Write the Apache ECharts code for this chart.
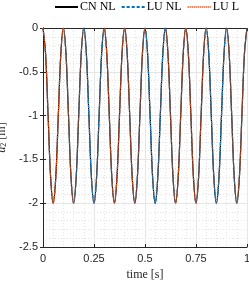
<!DOCTYPE html>
<html><head><meta charset="utf-8">
<script src="https://cdn.jsdelivr.net/npm/echarts@6/dist/echarts.min.js"></script>
<style>html,body{margin:0;padding:0;background:#fff}#c{width:249px;height:283px}</style>
</head><body><div id="c"></div>
<script>
const time = [0,0.0125,0.025,0.0375,0.05,0.0625,0.075,0.0875,
0.1,0.1125,0.125,0.1375,0.15,0.1625,0.175,0.1875,
0.2,0.2125,0.225,0.2375,0.25,0.2625,0.275,0.2875,
0.3,0.3125,0.325,0.3375,0.35,0.3625,0.375,0.3875,
0.4,0.4125,0.425,0.4375,0.45,0.4625,0.475,0.4875,
0.5,0.5125,0.525,0.5375,0.55,0.5625,0.575,0.5875,
0.6,0.6125,0.625,0.6375,0.65,0.6625,0.675,0.6875,
0.7,0.7125,0.725,0.7375,0.75,0.7625,0.775,0.7875,
0.8,0.8125,0.825,0.8375,0.85,0.8625,0.875,0.8875,
0.9,0.9125,0.925,0.9375,0.95,0.9625,0.975,0.9875,1];
const cnNL = [0,-0.29,-1,-1.71,-2,-1.71,-1,-0.29,
0,-0.29,-1,-1.71,-2,-1.71,-1,-0.29,
0,-0.29,-1,-1.71,-2,-1.71,-1,-0.29,
0,-0.29,-1,-1.71,-2,-1.71,-1,-0.29,
0,-0.29,-1,-1.71,-2,-1.71,-1,-0.29,
0,-0.29,-1,-1.71,-2,-1.71,-1,-0.29,
0,-0.29,-1,-1.71,-2,-1.71,-1,-0.29,
0,-0.29,-1,-1.71,-2,-1.71,-1,-0.29,
0,-0.29,-1,-1.71,-2,-1.71,-1,-0.29,
0,-0.29,-1,-1.71,-2,-1.71,-1,-0.29,0];
const luNL = [0,-0.29,-1,-1.71,-2,-1.71,-1,-0.29,
0,-0.29,-1,-1.71,-2,-1.71,-1,-0.29,
0,-0.29,-1,-1.71,-2,-1.71,-1,-0.29,
0,-0.29,-1,-1.71,-2,-1.71,-1,-0.29,
0,-0.29,-1,-1.71,-2,-1.71,-1,-0.29,
0,-0.29,-1,-1.71,-2,-1.71,-1,-0.29,
0,-0.29,-1,-1.71,-2,-1.71,-1,-0.29,
0,-0.29,-1,-1.71,-2,-1.71,-1,-0.29,
0,-0.29,-1,-1.71,-2,-1.71,-1,-0.29,
0,-0.29,-1,-1.71,-2,-1.71,-1,-0.29,0];
const luL = [0,-0.29,-1,-1.71,-2,-1.71,-1,-0.29,
0,-0.29,-1,-1.71,-2,-1.71,-1,-0.29,
0,-0.29,-1,-1.71,-2,-1.71,-1,-0.29,
0,-0.29,-1,-1.71,-2,-1.71,-1,-0.29,
0,-0.29,-1,-1.71,-2,-1.71,-1,-0.29,
0,-0.29,-1,-1.71,-2,-1.71,-1,-0.29,
0,-0.29,-1,-1.71,-2,-1.71,-1,-0.29,
0,-0.29,-1,-1.71,-2,-1.71,-1,-0.29,
0,-0.29,-1,-1.71,-2,-1.71,-1,-0.29,
0,-0.29,-1,-1.71,-2,-1.71,-1,-0.29,0];
const seriesNames = ['CN NL','LU NL','LU L'];
const xTicks = [0,0.25,0.5,0.75,1];
const yTicks = [0,-0.5,-1,-1.5,-2,-2.5];

const pair = arr => time.map((t,i)=>[t,arr[i]]);
const serif = '"DejaVu Serif", "Liberation Serif", serif';
const lserif = '"Liberation Serif", "DejaVu Serif", serif';
const sans = '"Liberation Sans", Arial, sans-serif';
const chart = echarts.init(document.getElementById('c'), null, {renderer:'canvas'});
const axisCommon = {
  axisLine:{show:true,onZero:false,lineStyle:{color:'#262626',width:1}},
  axisTick:{show:true,inside:true,length:3,lineStyle:{color:'#262626'}},
  splitLine:{show:true,lineStyle:{color:'#e6e6e6',width:1}},
  minorTick:{show:false,splitNumber:5},
  minorSplitLine:{show:true,lineStyle:{color:'#e3e3e3',type:[1,2],width:1}},
  axisLabel:{color:'#262626',fontFamily:sans,fontSize:11}
};
const fmt = v => String(v);
chart.setOption({
  animation:false,
  backgroundColor:'#fff',
  grid:{left:43,right:2,top:28,bottom:36,containLabel:false,outerBoundsMode:'none'},
  legend:{
    show:true,top:1,left:54,width:200,itemWidth:23,itemHeight:8,itemGap:5,padding:0,
    textStyle:{fontFamily:lserif,fontSize:12,color:'#000',padding:[0,0,0,-3]},
    itemStyle:{opacity:0},
    data:seriesNames
  },
  xAxis:[Object.assign({},axisCommon,{type:'value',min:0,max:1,interval:0.25,
    name:'time [s]',nameLocation:'middle',nameGap:21,
    nameTextStyle:{fontFamily:lserif,fontSize:12,color:'#262626'},
    axisLabel:Object.assign({},axisCommon.axisLabel,{margin:6,formatter:v=>xTicks.includes(v)?fmt(v):''})}),
    {type:'value',position:'top',min:0,max:1,interval:0.25,axisLine:{show:true,lineStyle:{color:'#262626'}},
     axisTick:{show:true,inside:true,length:3,lineStyle:{color:'#262626'}},axisLabel:{show:false},splitLine:{show:false}}],
  yAxis:[Object.assign({},axisCommon,{type:'value',min:-2.5,max:0,interval:0.5,
    name:'{i|u}{s|2} [m]',nameLocation:'middle',nameGap:34,nameRotate:90,
    nameTextStyle:{fontFamily:lserif,fontSize:12,color:'#262626',
      rich:{i:{fontFamily:lserif,fontStyle:'italic',fontSize:12,color:'#262626'},
            s:{fontFamily:lserif,fontSize:8,color:'#262626',verticalAlign:'bottom',padding:[5,0,0,0]}}},
    axisLabel:Object.assign({},axisCommon.axisLabel,{margin:5,formatter:v=>fmt(v)})}),
    {type:'value',position:'right',min:-2.5,max:0,interval:0.5,axisLine:{show:true,lineStyle:{color:'#262626'}},
     axisTick:{show:true,inside:true,length:3,lineStyle:{color:'#262626'}},axisLabel:{show:false},splitLine:{show:false}}],
  series:[
    {name:seriesNames[0],type:'line',data:pair(cnNL),showSymbol:false,symbol:'none',smooth:0.35,
     lineStyle:{color:'#000000',width:1.2,type:'solid'},itemStyle:{color:'#000'}},
    {name:seriesNames[1],type:'line',data:pair(luNL),showSymbol:false,symbol:'none',smooth:0.35,
     lineStyle:{color:'#0072BD',width:1.2,type:[3,2]},itemStyle:{color:'#0072BD'}},
    {name:seriesNames[2],type:'line',data:pair(luL),showSymbol:false,symbol:'none',smooth:0.35,
     lineStyle:{color:'#D95319',width:1.2,type:[1,1]},itemStyle:{color:'#D95319'}}
  ]
});
</script></body></html>
